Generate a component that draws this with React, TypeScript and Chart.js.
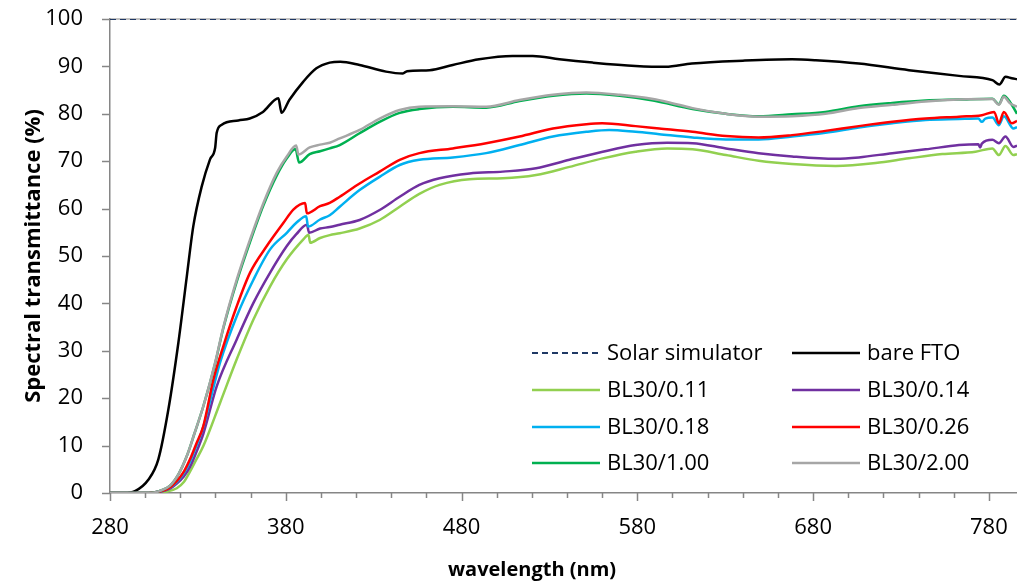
import React, { useEffect, useRef } from "react";
import { Chart, registerables } from "chart.js";

Chart.register(...registerables);

// ---------- axis settings ----------
const xMin = 280;
const xMax = 796;
const xMajorTicks = [280, 380, 480, 580, 680, 780];
const xMinorStep = 20;
const yMin = 0;
const yMax = 100;
const yStep = 10;
const xTitle = "wavelength (nm)";
const yTitle = "Spectral transmittance (%)";

// ---------- series data (wavelength nm / transmittance %) ----------
const solarWl = [280, 796];
const solarT = [100, 100];

const ftoWl = [280, 288, 294.2, 301.8, 307.5, 313.2, 318.9, 323.7, 327.4, 332.2, 336.9, 339.8, 340.7, 343.6, 353, 359.5, 367, 375.8, 377.6, 382, 390, 397.4, 405, 411, 422, 437, 446.6, 449, 461.8, 475, 490, 509, 520.5, 535.7, 554.6, 579, 596, 611, 640, 668, 681.5, 706, 734.5, 763, 782, 786, 789.5, 793, 796];
const ftoT = [0, 0, 0.4, 2.8, 7.1, 17.6, 31.7, 45.7, 56.3, 64.7, 70.4, 72.8, 76, 77.7, 78.6, 79, 80.4, 83.3, 80.2, 82.9, 86.8, 89.6, 90.8, 91, 90.3, 88.9, 88.5, 89, 89.2, 90.3, 91.5, 92.2, 92.2, 91.5, 90.8, 90.1, 89.9, 90.6, 91.2, 91.5, 91.3, 90.6, 89.2, 88, 87.1, 86.2, 87.8, 87.5, 87.3];

const bl011Wl = [280, 305, 312, 318, 322, 325.5, 329, 333.1, 342.6, 352.1, 361.6, 371.1, 380.6, 390, 392.9, 393.9, 399.5, 405, 410.7, 422, 433.4, 444.8, 456, 467.5, 484.5, 503.5, 522.4, 541.4, 560.3, 579, 597, 611.4, 630.4, 649, 668, 692.8, 715.6, 734.5, 753.5, 772.4, 782, 785.7, 789.4, 794, 796];
const bl011T = [0, 0, 0.3, 1, 2.3, 4.5, 7, 9.9, 19, 28.2, 36.6, 43.6, 49.3, 53.5, 54.5, 52.8, 53.8, 54.4, 54.8, 55.8, 57.6, 60.4, 63.1, 65, 66.2, 66.4, 67.1, 68.8, 70.6, 72, 72.7, 72.5, 71.3, 70.1, 69.4, 69, 69.6, 70.6, 71.5, 72, 72.7, 71.3, 73.2, 71.3, 71.5];

const bl014Wl = [280, 303, 309, 314, 318, 322, 325.5, 329, 333.1, 340.7, 352.1, 361.6, 371.1, 380.6, 386, 392, 393.3, 399.5, 405, 410.7, 422, 433.4, 444.8, 456, 467.5, 484.5, 503.5, 522.4, 541.4, 560.3, 579, 597, 611.4, 630.4, 649, 668, 692.8, 706, 725, 744, 763, 774, 775, 776, 782, 785.7, 789.4, 794, 796];
const bl014T = [0, 0, 0.3, 0.9, 2, 3.5, 5.5, 8.5, 12.5, 22.5, 32.4, 40.1, 46.5, 52.1, 54.6, 56.6, 54.9, 55.8, 56.1, 56.6, 57.6, 59.7, 62.5, 65, 66.4, 67.4, 67.8, 68.5, 70.3, 72, 73.4, 73.9, 73.8, 72.7, 71.7, 71, 70.5, 70.8, 71.7, 72.5, 73.4, 73.6, 72.9, 73.7, 74.5, 73.8, 75.2, 73, 73.3];

const bl018Wl = [280, 302, 308, 313, 318, 322, 325.5, 329, 333.1, 338, 342.6, 352.1, 361.6, 371.1, 380.6, 386, 391.6, 392.7, 399.5, 405, 410.7, 422, 433.4, 444.8, 456, 475, 494, 513, 532, 551, 564, 579, 592.5, 611.4, 630.4, 649, 668, 687, 706, 725, 744, 763, 774, 776, 778, 782, 785.7, 788.5, 794, 796];
const bl018T = [0, 0, 0.3, 0.9, 2.3, 4.2, 6.6, 9.8, 14, 21, 27.5, 37.3, 45, 51.4, 54.9, 57, 58.4, 56.2, 57.7, 58.6, 60.4, 63.9, 66.7, 69.2, 70.3, 70.8, 71.7, 73.4, 75.2, 76.2, 76.6, 76.2, 75.7, 75, 74.6, 74.6, 75.2, 76, 77.1, 78, 78.7, 78.9, 79, 78.3, 79, 79.2, 77.6, 79.5, 76.9, 77.2];

const bl026Wl = [280, 302, 308, 313, 318, 322, 325.5, 329, 333.1, 338.8, 344.5, 352.1, 359.7, 369.2, 378.7, 384.3, 391, 392, 399.5, 405, 410.7, 422, 433.4, 444.8, 456, 475, 494, 513, 532, 551, 560, 579, 592.5, 611.4, 630.4, 649, 668, 687, 706, 725, 744, 763, 776, 783, 785.7, 788.5, 793, 796];
const bl026T = [0, 0, 0.3, 0.9, 2.5, 4.5, 7.1, 10.3, 14.1, 23.9, 31, 39.4, 46.5, 52.1, 57, 59.8, 61.2, 59, 60.5, 61.2, 62.5, 65.3, 67.8, 70.3, 71.7, 72.7, 73.8, 75.2, 76.9, 77.8, 78, 77.4, 76.9, 76.2, 75.3, 75, 75.5, 76.4, 77.4, 78.3, 79, 79.4, 79.7, 80.4, 78, 80.4, 78, 78.5];

const bl100Wl = [280, 303, 308, 314, 319, 323.7, 328, 333.1, 339.8, 344.5, 352.1, 359.7, 367.3, 374.9, 380.6, 385.5, 387.6, 393.6, 399.5, 405, 410.7, 422, 433.4, 444.8, 456, 475, 494, 513, 532, 551, 570, 589, 611.4, 630.4, 649, 668, 687, 706, 725, 744, 763, 782, 785.7, 788.5, 792, 796];
const bl100T = [0, 0, 0.4, 1.5, 4, 7.8, 12.5, 18.3, 27.3, 34.8, 44.6, 53, 60.7, 67, 70.6, 72.6, 69.7, 71.5, 72.1, 72.7, 73.4, 75.9, 78.3, 80.2, 81, 81.5, 81.3, 82.7, 83.8, 84.3, 83.8, 82.8, 81, 80, 79.5, 79.9, 80.4, 81.6, 82.3, 82.8, 83, 83.2, 82, 83.8, 82.5, 80];

const bl200Wl = [280, 303, 308, 314, 319, 323.7, 328, 333.1, 339.8, 344.5, 352.1, 359.7, 367.3, 374.9, 380.6, 385.9, 387.2, 393.6, 399.5, 405, 410.7, 422, 433.4, 444.8, 456, 475, 494, 513, 532, 551, 570, 589, 597, 611.4, 630.4, 649, 668, 687, 706, 725, 744, 763, 782, 785.7, 788.5, 792, 796];
const bl200T = [0, 0, 0.4, 1.5, 4, 7.8, 12.5, 18.3, 27.5, 35, 45, 53.5, 61.2, 67.6, 71, 73.3, 71.4, 72.9, 73.5, 73.9, 74.8, 76.6, 79, 80.8, 81.5, 81.6, 81.5, 82.9, 84, 84.5, 84, 83.1, 82.5, 81.2, 80, 79.4, 79.5, 80, 81.2, 81.9, 82.6, 83, 83.1, 81.9, 83.6, 82.2, 81.5];

const seriesLabels = ["Solar simulator", "bare FTO", "BL30/0.11", "BL30/0.14", "BL30/0.18", "BL30/0.26", "BL30/1.00", "BL30/2.00"];
const seriesColors = ["#1F3864", "#000000", "#92D050", "#7030A0", "#00B0F0", "#FF0000", "#00B050", "#A6A6A6"];
const seriesWl = [solarWl, ftoWl, bl011Wl, bl014Wl, bl018Wl, bl026Wl, bl100Wl, bl200Wl];
const seriesT = [solarT, ftoT, bl011T, bl014T, bl018T, bl026T, bl100T, bl200T];

const FONT = "'Open Sans', sans-serif";
const AXIS_COLOR = "#868686";

const decorPlugin = {
  id: "decor",
  beforeDatasetsDraw(chart: any) {
    const { ctx, chartArea } = chart;
    const y = chart.scales.y.getPixelForValue(yMax);
    ctx.save();
    ctx.strokeStyle = AXIS_COLOR;
    ctx.lineWidth = 1.2;
    ctx.beginPath();
    ctx.moveTo(chartArea.left, y);
    ctx.lineTo(chartArea.right, y);
    ctx.stroke();
    ctx.restore();
  },
  afterDraw(chart: any) {
    const { ctx, chartArea } = chart;
    const xs = chart.scales.x;
    const ys = chart.scales.y;
    ctx.save();
    // tick marks
    ctx.strokeStyle = AXIS_COLOR;
    ctx.lineWidth = 1.5;
    ctx.beginPath();
    for (let v = xMin; v <= xMax; v += xMinorStep) {
      const px = Math.round(xs.getPixelForValue(v)) + 0.5;
      const major = xMajorTicks.includes(v);
      ctx.moveTo(px, chartArea.bottom);
      ctx.lineTo(px, chartArea.bottom + (major ? 8 : 5));
    }
    for (let v = yMin; v <= yMax; v += yStep) {
      const py = Math.round(ys.getPixelForValue(v)) + 0.5;
      ctx.moveTo(chartArea.left - 8, py);
      ctx.lineTo(chartArea.left, py);
    }
    ctx.stroke();

    // axis titles
    ctx.fillStyle = "#000";
    ctx.textAlign = "center";
    ctx.textBaseline = "middle";
    ctx.font = `bold 20px ${FONT}`;
    ctx.fillText(xTitle, 532, 570);
    ctx.save();
    ctx.font = `bold 22px ${FONT}`;
    ctx.translate(34, 256);
    ctx.rotate(-Math.PI / 2);
    ctx.fillText(yTitle, 0, 0);
    ctx.restore();

    // legend (2 columns, row-major)
    const colLine = [532, 792];
    const lineLen = 68;
    const textGap = 7;
    const rows = [353, 390, 427, 463];
    ctx.font = `22px ${FONT}`;
    ctx.textAlign = "left";
    chart.data.datasets.forEach((ds: any, i: number) => {
      const col = i % 2;
      const row = Math.floor(i / 2);
      const x0 = colLine[col];
      const y0 = rows[row];
      ctx.save();
      ctx.strokeStyle = ds.borderColor;
      ctx.lineWidth = ds.borderWidth;
      ctx.setLineDash(ds.borderDash || []);
      ctx.beginPath();
      ctx.moveTo(x0, y0);
      ctx.lineTo(x0 + lineLen, y0);
      ctx.stroke();
      ctx.restore();
      ctx.fillStyle = "#000";
      ctx.fillText(ds.label, x0 + lineLen + textGap, y0 + 1);
    });
    ctx.restore();
  },
};

const zeroPadding = (scale: any) => {
  scale.paddingTop = 0;
  scale.paddingBottom = 0;
  scale.paddingLeft = 0;
  scale.paddingRight = 0;
};

export default function App() {
  const canvasRef = useRef<HTMLCanvasElement | null>(null);

  useEffect(() => {
    document.body.style.margin = "0";
    const canvas = canvasRef.current;
    if (!canvas) return;
    const datasets = seriesLabels.map((label, i) => ({
      label,
      data: seriesWl[i].map((x, j) => ({ x, y: seriesT[i][j] })),
      borderColor: seriesColors[i],
      backgroundColor: seriesColors[i],
      borderWidth: i === 0 ? 2 : 2.5,
      borderDash: i === 0 ? [6, 4] : [],
      pointRadius: 0,
      fill: false,
      cubicInterpolationMode: "monotone" as const,
      order: 20 - i,
    }));

    const chart = new Chart(canvas, {
      type: "line",
      data: { datasets },
      options: {
        responsive: false,
        animation: false,
        layout: { padding: { top: 19, left: 0, right: 0, bottom: 0 } },
        plugins: { legend: { display: false }, tooltip: { enabled: false } },
        scales: {
          x: {
            type: "linear",
            min: xMin,
            max: xMax,
            afterBuildTicks: (scale: any) => {
              scale.ticks = xMajorTicks.map((v) => ({ value: v }));
            },
            afterFit: (scale: any) => {
              scale.height = 92;
              zeroPadding(scale);
            },
            grid: { display: false, drawTicks: true, tickLength: 22 },
            border: { display: true, color: AXIS_COLOR, width: 1.5 },
            ticks: {
              color: "#000",
              font: { family: FONT, size: 22 },
              padding: 0,
              maxRotation: 0,
              autoSkip: false,
              callback: (v: any) => String(v),
            },
          },
          y: {
            type: "linear",
            min: yMin,
            max: yMax,
            afterFit: (scale: any) => {
              scale.width = 110;
              zeroPadding(scale);
            },
            grid: { display: false, drawTicks: true, tickLength: 27 },
            border: { display: true, color: AXIS_COLOR, width: 1.5 },
            ticks: {
              stepSize: yStep,
              color: "#000",
              font: { family: FONT, size: 22 },
              padding: 0,
            },
          },
        },
      },
      plugins: [decorPlugin],
    });
    return () => chart.destroy();
  }, []);

  return (
    <div style={{ width: 1017, height: 585, background: "#fff" }}>
      <canvas ref={canvasRef} width={1017} height={585} />
    </div>
  );
}
